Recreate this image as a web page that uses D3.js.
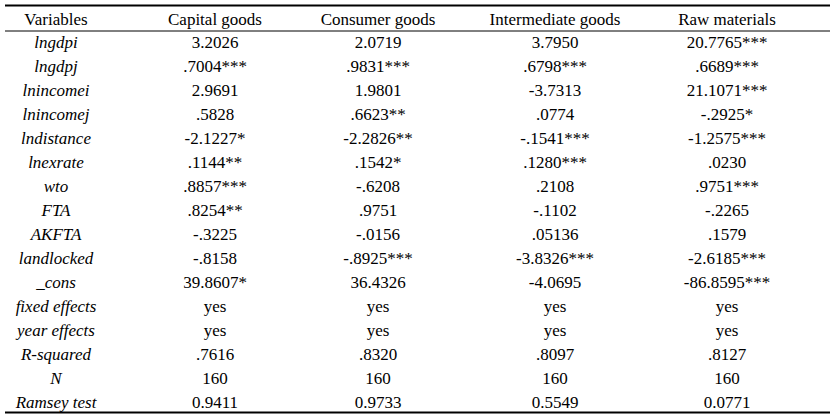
<!DOCTYPE html><html><head><meta charset="utf-8"><script src="https://cdn.jsdelivr.net/npm/d3@7"></script>
<style>body{margin:0;background:#fff} text{font-family:"Times New Roman","Liberation Serif","DejaVu Serif",serif;font-size:17px}</style></head><body><svg id="c" width="835" height="417"></svg><script>
const headers=["Variables","Capital goods","Consumer goods","Intermediate goods","Raw materials"];
const variables=["lngdpi","lngdpj","lnincomei","lnincomej","lndistance","lnexrate","wto","FTA","AKFTA","landlocked","_cons","fixed effects","year effects","R-squared","N","Ramsey test"];
const capital=["3.2026",".7004***","2.9691",".5828","-2.1227*",".1144**",".8857***",".8254**","-.3225","-.8158","39.8607*","yes","yes",".7616","160","0.9411"];
const consumer=["2.0719",".9831***","1.9801",".6623**","-2.2826**",".1542*","-.6208",".9751","-.0156","-.8925***","36.4326","yes","yes",".8320","160","0.9733"];
const intermediate=["3.7950",".6798***","-3.7313",".0774","-.1541***",".1280***",".2108","-.1102",".05136","-3.8326***","-4.0695","yes","yes",".8097","160","0.5549"];
const raw=["20.7765***",".6689***","21.1071***","-.2925*","-1.2575***",".0230",".9751***","-.2265",".1579","-2.6185***","-86.8595***","yes","yes",".8127","160","0.0771"];
const cols=[variables,capital,consumer,intermediate,raw];
const svg=d3.select("#c");
const cx=[56,215,378,555,727];
const y=d3.scaleLinear().domain([0,15]).range([42,402]);
svg.append("line").attr("x1",5).attr("x2",830).attr("y1",5.5).attr("y2",5.5).attr("stroke","#000").attr("stroke-width",2);
svg.append("line").attr("x1",5).attr("x2",830).attr("y1",31).attr("y2",31).attr("stroke","#000").attr("stroke-width",1);
svg.append("line").attr("x1",5).attr("x2",830).attr("y1",412.5).attr("y2",412.5).attr("stroke","#000").attr("stroke-width",2);
headers.forEach((h,i)=>svg.append("text").attr("x",cx[i]).attr("y",19).attr("dy","0.35em").attr("text-anchor","middle").text(h));
cols.forEach((col,i)=>{
 svg.selectAll(null).data(col).enter().append("text").attr("x",cx[i]).attr("y",(d,j)=>y(j)).attr("dy","0.35em")
  .attr("text-anchor","middle").style("font-style",i==0?"italic":"normal").text(d=>d);
});
</script></body></html>
